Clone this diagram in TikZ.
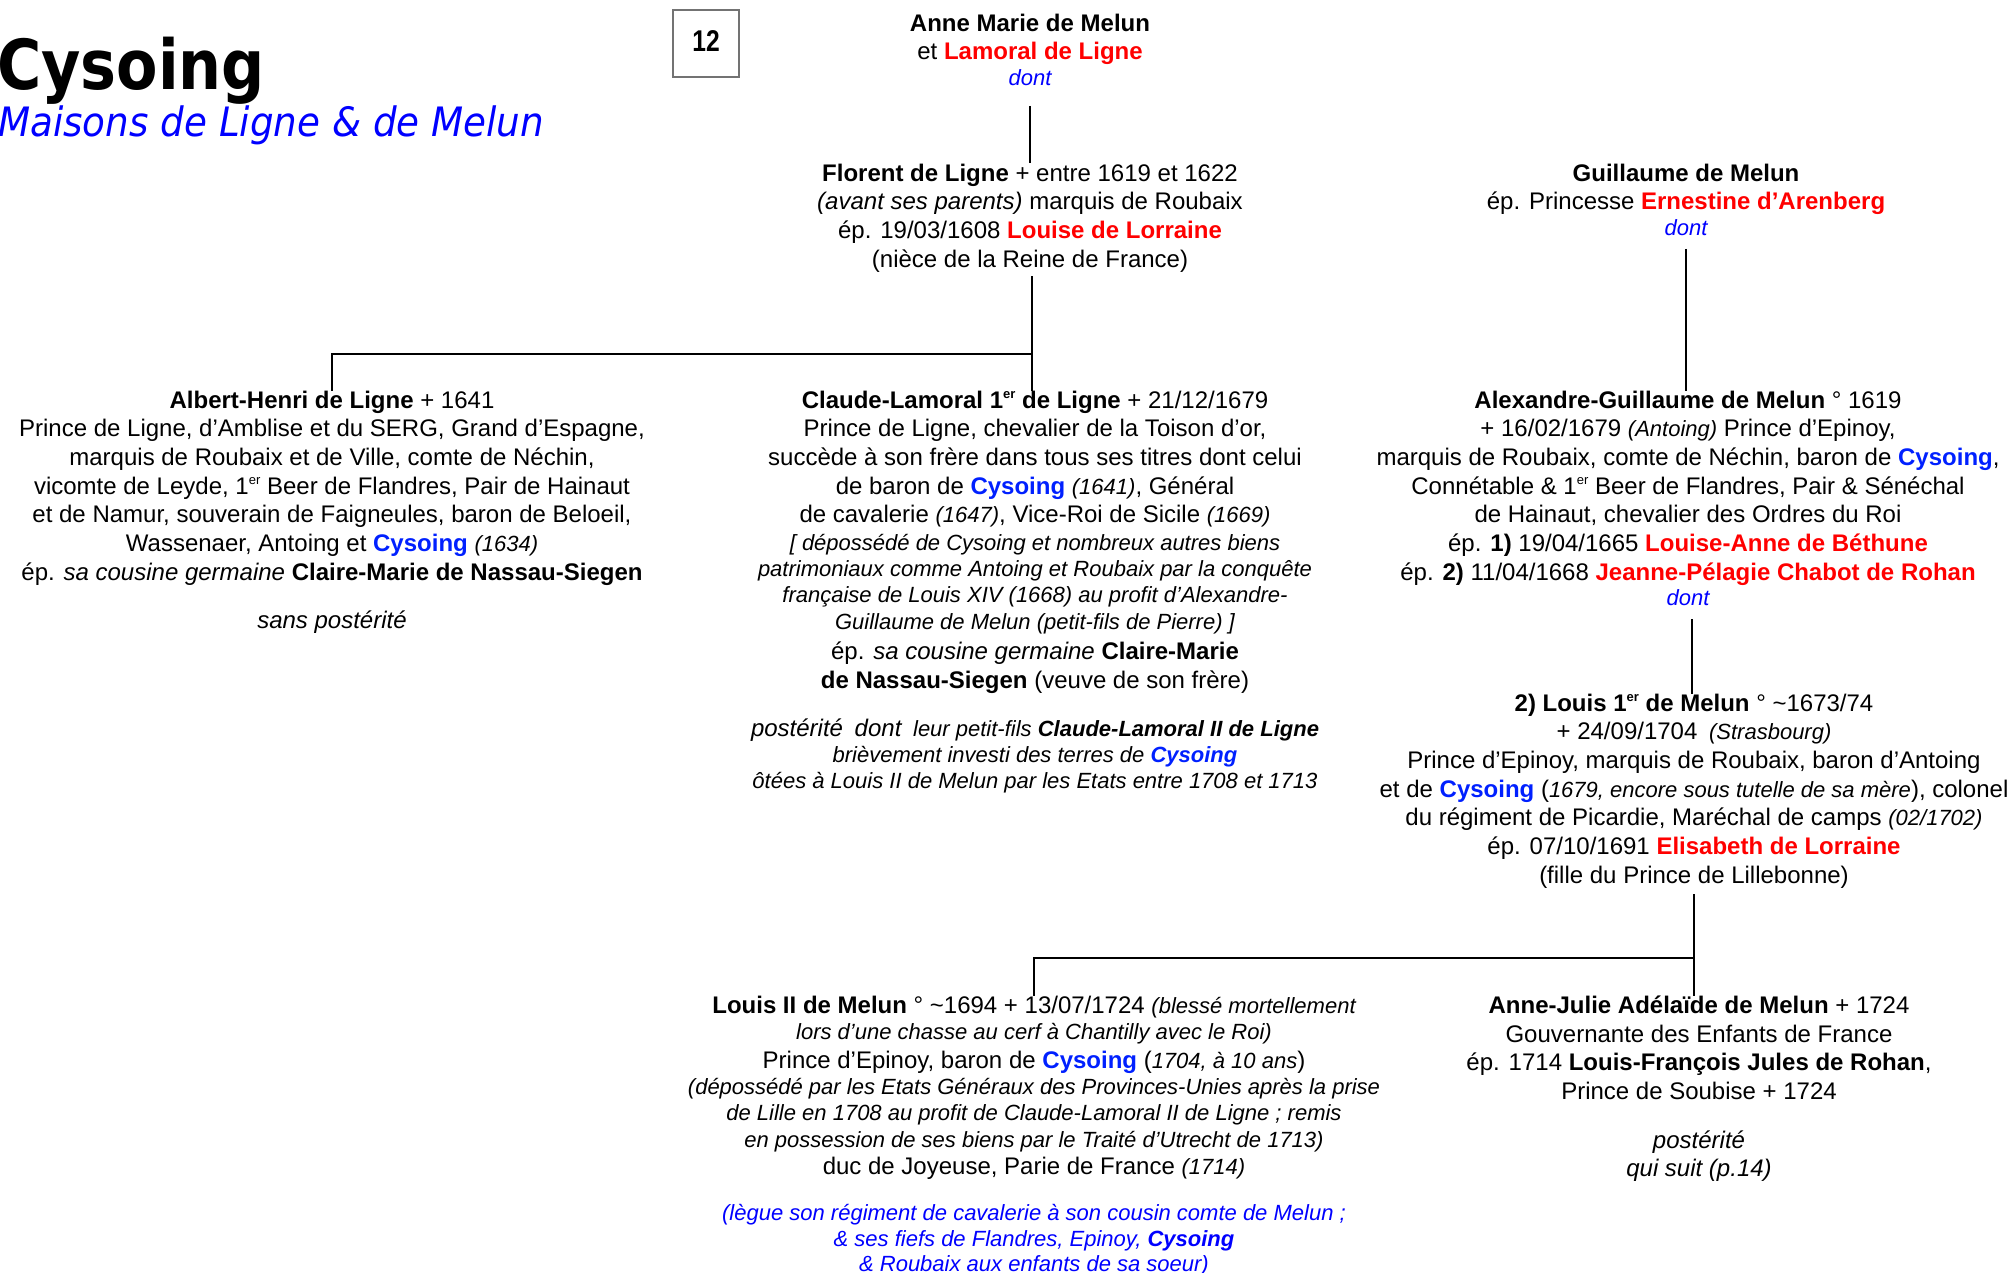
\documentclass[tikz,border=0pt]{standalone}
\usepackage{graphicx}
\usepackage{fontspec}
\setmainfont{Liberation Sans}
\newfontfamily\titrefont{DejaVu Sans}
\usetikzlibrary{positioning}

\definecolor{nomrouge}{RGB}{255,0,0}
\definecolor{nombleu}{RGB}{0,0,255}
\definecolor{cysbleu}{RGB}{0,32,255}
\newcommand{\rouge}[1]{\textcolor{nomrouge}{\textbf{#1}}}
\newcommand{\cys}{\textcolor{cysbleu}{\textbf{Cysoing}}}
\newcommand{\ier}{1\raisebox{10pt}{\fontsize{13}{13}\selectfont er}}
\newcommand{\pti}[1]{{\fontsize{22}{26}\selectfont\itshape #1}}
\newcommand{\motdont}{{\fontsize{22}{26}\selectfont\itshape\color{nombleu}dont}}

\begin{document}
\begin{tikzpicture}[x=1pt,y=-1pt,
    bloc/.style={align=center, inner sep=0pt, anchor=north, font=\fontsize{24}{28.7}\selectfont},
    lien/.style={line width=2.4pt}]
  \useasboundingbox (0,0) rectangle (2011,1273);

  \node[anchor=base west, inner sep=0pt] (titre) at (-3,90)
    {\titrefont\bfseries\fontsize{69}{76}\selectfont\scalebox{0.875}[1]{Cysoing}};
  \node[anchor=base west, inner sep=0pt, text=nombleu] (soustitre) at (-2,137)
    {\titrefont\itshape\fontsize{40.5}{45}\selectfont\scalebox{0.92}[1]{Maisons de Ligne \& de Melun}};
  \node[draw=black!55, line width=1.5pt, minimum width=66, minimum height=67, inner sep=0pt] (page) at (706,43.5)
    {\bfseries\fontsize{30}{32}\selectfont\raisebox{4pt}{\scalebox{0.82}[1]{12}}}; % page

  % generation 1
  \node[bloc] (anne) at (1030,13.5) {\textbf{Anne Marie de Melun}\\
    et \rouge{Lamoral de Ligne}\\[-3pt]
    \motdont};
  \node[bloc] (guil) at (1686,163.5) {\textbf{Guillaume de Melun}\\
    ép. Princesse \rouge{Ernestine d’Arenberg}\\[-3pt]
    \motdont};

  % generation 2
  \node[bloc] (flor) at (1030,163.5) {\textbf{Florent de Ligne} + entre 1619 et 1622\\
    \textit{(avant ses parents)} marquis de Roubaix\\
    ép. 19/03/1608 \rouge{Louise de Lorraine}\\
    (nièce de la Reine de France)};

  % generation 3
  \node[bloc] (albert) at (332,390.5) {\textbf{Albert-Henri de Ligne} + 1641\\
    Prince de Ligne, d’Amblise et du SERG, Grand d’Espagne,\\
    marquis de Roubaix et de Ville, comte de Néchin,\\
    vicomte de Leyde, \ier{} Beer de Flandres, Pair de Hainaut\\
    et de Namur, souverain de Faigneules, baron de Beloeil,\\
    Wassenaer, Antoing et \cys{} \pti{(1634)}\\
    ép. \textit{sa cousine germaine} \textbf{Claire-Marie de Nassau-Siegen}\\[20pt]
    \textit{sans postérité}};
  \node[bloc] (claude) at (1035,390.5) {\textbf{Claude-Lamoral \ier{} de Ligne} + 21/12/1679\\
    Prince de Ligne, chevalier de la Toison d’or,\\
    succède à son frère dans tous ses titres dont celui\\
    de baron de \cys{} \pti{(1641)}, Général\\
    de cavalerie \pti{(1647)}, Vice-Roi de Sicile \pti{(1669)}\\[-1.5pt]
    \pti{[ dépossédé de Cysoing et nombreux autres biens}\\[-2.5pt]
    \pti{patrimoniaux comme Antoing et Roubaix par la conquête}\\[-2pt]
    \pti{française de Louis XIV (1668) au profit d’Alexandre-}\\[-2.5pt]
    \pti{Guillaume de Melun (petit-fils de Pierre) ]}\\[2pt]
    ép. \textit{sa cousine germaine} \textbf{Claire-Marie}\\
    \textbf{de Nassau-Siegen} (veuve de son frère)\\[19pt]
    \textit{postérité\hspace{5pt} dont\hspace{5pt} \pti{leur petit-fils \textbf{Claude-Lamoral II de Ligne}}}\\[-2.5pt]
    \pti{brièvement investi des terres de \cys}\\[-3pt]
    \pti{ôtées à Louis II de Melun par les Etats entre 1708 et 1713}};
  \node[bloc] (alex) at (1688,390.5) {\textbf{Alexandre-Guillaume de Melun} ° 1619\\
    + 16/02/1679 \pti{(Antoing)} Prince d’Epinoy,\\
    marquis de Roubaix, comte de Néchin, baron de \cys,\\
    Connétable \& \ier{} Beer de Flandres, Pair \& Sénéchal\\
    de Hainaut, chevalier des Ordres du Roi\\
    ép. \textbf{1)} 19/04/1665 \rouge{Louise-Anne de Béthune}\\
    ép. \textbf{2)} 11/04/1668 \rouge{Jeanne-Pélagie Chabot de Rohan}\\[-3pt]
    \motdont};

  % generation 4
  \node[bloc] (louis) at (1694,693.5) {\textbf{2) Louis \ier{} de Melun} ° \textasciitilde1673/74\\
    + 24/09/1704\hspace{5pt} \pti{(Strasbourg)}\\
    Prince d’Epinoy, marquis de Roubaix, baron d’Antoing\\
    et de \cys{} (\pti{1679, encore sous tutelle de sa mère}), colonel\\
    du régiment de Picardie, Maréchal de camps \pti{(02/1702)}\\
    ép. 07/10/1691 \rouge{Elisabeth de Lorraine}\\
    (fille du Prince de Lillebonne)};

  % generation 5
  \node[bloc] (louisdeux) at (1034,995.5) {\textbf{Louis II de Melun} ° \textasciitilde1694 + 13/07/1724 \pti{(blessé mortellement}\\[-2pt]
    \pti{lors d’une chasse au cerf à Chantilly avec le Roi)}\\
    Prince d’Epinoy, baron de \cys{} (\pti{1704, à 10 ans})\\[-3pt]
    \pti{(dépossédé par les Etats Généraux des Provinces-Unies après la prise}\\[-2.5pt]
    \pti{de Lille en 1708 au profit de Claude-Lamoral II de Ligne ; remis}\\[-2pt]
    \pti{en possession de ses biens par le Traité d’Utrecht de 1713)}\\[-1pt]
    duc de Joyeuse, Parie de France \pti{(1714)}\\[17pt]
    \pti{\color{nombleu}(lègue son régiment de cavalerie à son cousin comte de Melun ;}\\[-2.5pt]
    \pti{\color{nombleu}\& ses fiefs de Flandres, Epinoy, \textbf{Cysoing}}\\[-3.5pt]
    \pti{\color{nombleu}\& Roubaix aux enfants de sa soeur)}};
  \node[bloc] (annejulie) at (1699,995.5) {\textbf{Anne-Julie Adélaïde de Melun} + 1724\\
    Gouvernante des Enfants de France\\
    ép. 1714 \textbf{Louis-François Jules de Rohan},\\
    Prince de Soubise + 1724\\[20pt]
    \textit{postérité}\\
    \textit{qui suit (p.14)}};

  % liens
  \coordinate (fourche1) at (1032,354);
  \coordinate (fourche2) at (1694,958);
  \draw[lien, shorten <=20pt] (anne.south) -- (anne.south |- flor.north);
  \draw[lien, shorten <=4pt] (fourche1 |- flor.south) -- (fourche1 |- claude.north);
  \draw[lien] (fourche1) -| (albert.north);
  \draw[lien, shorten <=13pt] (guil.south) -- (guil.south |- alex.north);
  \draw[lien, shorten <=13pt] ([xshift=4pt]alex.south) -- ([xshift=4pt]alex.south |- louis.north);
  \draw[lien, shorten <=6pt] (fourche2 |- louis.south) -- (fourche2 |- annejulie.north);
  \draw[lien] (fourche2) -| (louisdeux.north);
\end{tikzpicture}
\end{document}
